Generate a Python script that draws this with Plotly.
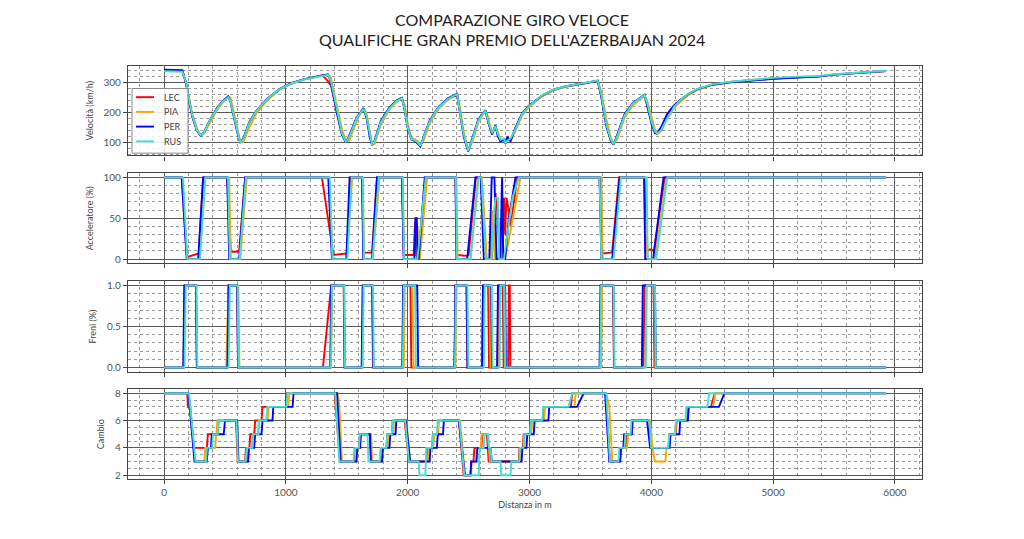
import plotly.graph_objects as go

TITLE_LINES = ["COMPARAZIONE GIRO VELOCE", "QUALIFICHE GRAN PREMIO DELL'AZERBAIJAN 2024"]
DRIVERS = ["LEC", "PIA", "PER", "RUS"]
COLORS = ["red", "orange", "blue", "turquoise"]
Y_TITLES = ["Velocità (km/h)", "Acceleratore (%)", "Freni (%)", "Cambio"]
X_TITLE = "Distanza in m"

# ---- speed (km/h) on a shared distance grid (m)
SPEED_DIST = [0, 150, 180, 230, 270, 300, 330, 380, 430, 480, 526, 545, 600, 625, 650, 700, 760, 850, 950,
              1050, 1150, 1250, 1300, 1345, 1370, 1420, 1460, 1493, 1520, 1580, 1636, 1660, 1690, 1707, 1730,
              1780, 1850, 1910, 1953, 1975, 2000, 2030, 2060, 2080, 2104, 2130, 2180, 2250, 2330, 2405, 2430,
              2460, 2496, 2530, 2580, 2638, 2660, 2693, 2720, 2740, 2762, 2790, 2803, 2819, 2844, 2880, 2940,
              3000, 3100, 3200, 3300, 3450, 3559, 3590, 3630, 3665, 3690, 3720, 3780, 3850, 3945, 3970, 4000,
              4030, 4049, 4080, 4130, 4160, 4184, 4250, 4300, 4380, 4500, 4650, 4790, 5005, 5200, 5367, 5500,
              5638, 5800, 5926]
LEC_SPEED = [340, 339, 300, 190, 140, 122, 133, 175, 210, 236, 252, 240, 138, 100, 110, 165, 205, 245, 278,
             298, 311, 320, 325, 305, 290, 200, 130, 100, 118, 180, 213, 190, 120, 92, 103,
             165, 213, 238, 245, 212, 152, 112, 106, 98, 90, 112, 168, 213, 244, 260, 205,
             125, 72, 105, 172, 205, 172, 125, 155, 125, 105, 108, 98, 116, 104, 140, 194,
             222, 255, 276, 287, 298, 307, 255, 160, 110, 93, 120, 190, 230, 257, 222, 170,
             135, 128, 147, 192, 208, 222, 245, 260, 278, 293, 302, 307, 314, 318, 320, 327,
             331, 336, 339]
PIA_SPEED = [339, 338, 305, 198, 145, 124, 130, 170, 205, 232, 252, 250, 150, 105, 100, 150, 198, 242, 276,
             297, 310, 319, 323, 327, 315, 220, 145, 105, 105, 170, 215, 200, 135, 95, 95,
             160, 210, 236, 248, 225, 165, 115, 110, 104, 92, 105, 163, 210, 242, 263, 215,
             135, 75, 100, 168, 208, 185, 128, 150, 135, 108, 106, 100, 110, 106, 135, 190,
             220, 253, 275, 286, 297, 306, 270, 180, 118, 95, 110, 182, 225, 256, 235, 185,
             142, 127, 138, 182, 200, 215, 240, 257, 276, 292, 302, 308, 314, 318, 321, 327,
             331, 336, 339]
PER_SPEED = [343, 342, 298, 188, 138, 122, 135, 177, 212, 238, 254, 236, 135, 98, 112, 168, 207, 247, 279,
             299, 312, 321, 325, 328, 300, 195, 125, 99, 122, 182, 214, 185, 115, 90, 107,
             172, 217, 241, 249, 208, 148, 110, 104, 95, 86, 118, 172, 217, 247, 262, 198,
             118, 69, 112, 177, 207, 168, 127, 157, 120, 102, 110, 96, 118, 103, 145, 197,
             224, 256, 277, 288, 298, 306, 250, 155, 106, 92, 125, 193, 233, 259, 215, 165,
             130, 130, 150, 195, 210, 222, 246, 261, 278, 293, 301, 306, 313, 317, 320, 327,
             331, 336, 339]
RUS_SPEED = [338, 337, 302, 192, 140, 123, 134, 176, 210, 236, 251, 238, 140, 99, 110, 166, 206, 246, 278,
             298, 311, 320, 324, 326, 305, 205, 130, 100, 118, 180, 212, 190, 122, 91, 104,
             168, 214, 239, 247, 210, 150, 111, 105, 100, 88, 115, 170, 215, 245, 261, 205,
             125, 71, 108, 174, 206, 172, 130, 155, 128, 108, 112, 97, 106, 112, 140, 195,
             223, 257, 277, 288, 299, 307, 258, 162, 110, 93, 120, 190, 231, 258, 225, 172,
             135, 129, 140, 180, 195, 218, 246, 262, 279, 294, 303, 309, 316, 320, 322, 328,
             332, 337, 340]

# ---- throttle (%) : (distance m, value)
LEC_THROTTLE = [(0, 100), (145, 100), (186, 5), (200, 3), (240, 5), (270, 7), (285, 7), (321, 100), (518, 100),
                (548, 9), (590, 9), (605, 10), (616, 9), (666, 100), (1296, 100), (1390, 5), (1470, 6),
                (1500, 7), (1534, 100), (1625, 100), (1638, 8), (1707, 8), (1748, 100), (1953, 100), (1967, 5),
                (2049, 5), (2060, 45), (2070, 5), (2090, 5), (2145, 100), (2392, 100), (2405, 5), (2490, 4),
                (2500, 5), (2560, 100), (2600, 100), (2640, 0), (2690, 0), (2721, 80), (2735, 60), (2755, 5),
                (2775, 10), (2790, 75), (2800, 30), (2811, 75), (2830, 60), (2845, 40), (2900, 100),
                (3575, 100), (3597, 7), (3670, 8), (3679, 10), (3735, 100), (3945, 100), (3967, 10), (3990, 12),
                (4022, 10), (4110, 100), (5926, 100)]
PIA_THROTTLE = [(0, 100), (150, 100), (191, 0), (290, 0), (340, 100), (535, 100), (548, 0), (625, 0), (680, 100),
                (1355, 100), (1385, 0), (1500, 0), (1545, 100), (1632, 100), (1642, 0), (1712, 0), (1770, 100),
                (1960, 100), (1972, 0), (2075, 0), (2082, 40), (2090, 0), (2100, 0), (2160, 100), (2400, 100),
                (2410, 0), (2515, 0), (2578, 100), (2610, 100), (2650, 0), (2675, 0), (2700, 60), (2715, 0),
                (2745, 0), (2760, 50), (2775, 0), (2800, 0), (2926, 100), (3590, 100), (3600, 0), (3685, 0),
                (3747, 100), (3960, 100), (3967, 0), (4030, 0), (4125, 100), (5926, 100)]
PER_THROTTLE = [(0, 100), (145, 100), (186, 0), (280, 0), (321, 100), (518, 100), (535, 0), (616, 0), (666, 100),
                (1348, 100), (1378, 0), (1496, 0), (1523, 100), (1625, 100), (1635, 0), (1707, 0), (1748, 100),
                (1953, 100), (1967, 0), (2055, 0), (2063, 50), (2075, 50), (2080, 0), (2090, 0), (2140, 100),
                (2392, 100), (2400, 0), (2488, 0), (2556, 100), (2600, 100), (2625, 0), (2670, 0), (2690, 100),
                (2712, 100), (2729, 0), (2760, 0), (2775, 100), (2785, 0), (2800, 0), (2830, 50), (2885, 100),
                (3575, 100), (3590, 0), (3679, 0), (3740, 100), (3940, 100), (3950, 0), (4015, 0), (4100, 100),
                (5926, 100)]
RUS_THROTTLE = [(0, 100), (155, 100), (190, 0), (295, 0), (338, 100), (525, 100), (540, 0), (620, 0), (672, 100),
                (1360, 100), (1382, 0), (1505, 0), (1540, 100), (1630, 100), (1640, 0), (1712, 0), (1762, 100),
                (1958, 100), (1970, 0), (2080, 0), (2148, 100), (2395, 100), (2405, 0), (2515, 0), (2583, 100),
                (2605, 100), (2640, 0), (2690, 0), (2700, 30), (2720, 75), (2740, 75), (2750, 0), (2790, 0),
                (2860, 75), (2912, 100), (3575, 100), (3590, 0), (3690, 0), (3750, 100), (3960, 100), (3972, 0),
                (4040, 0), (4131, 100), (5926, 100)]

# ---- brake (0/1) : (distance m, value)
LEC_BRAKE = [(0, 0), (160, 0), (170, 1), (262, 1), (270, 0), (518, 0), (528, 1), (600, 1), (608, 0), (1304, 0),
             (1372, 1), (1474, 1), (1482, 0), (1625, 0), (1633, 1), (1707, 1), (1715, 0), (1962, 0), (1970, 1),
             (2022, 1), (2030, 0), (2384, 0), (2392, 1), (2482, 1), (2490, 0), (2611, 0), (2619, 1), (2660, 1),
             (2668, 0), (2737, 0), (2745, 1), (2780, 1), (2788, 0), (2825, 0), (2830, 1), (2838, 1), (2843, 0),
             (3578, 0), (3586, 1), (3685, 1), (3693, 0), (3935, 0), (3945, 1), (4018, 1), (4026, 0), (5926, 0)]
PIA_BRAKE = [(0, 0), (165, 0), (175, 1), (264, 1), (272, 0), (510, 0), (530, 1), (610, 1), (619, 0), (1370, 0),
             (1382, 1), (1480, 1), (1488, 0), (1628, 0), (1636, 1), (1712, 1), (1720, 0), (1968, 0), (1976, 1),
             (2040, 1), (2048, 0), (2392, 0), (2402, 1), (2486, 1), (2494, 0), (2622, 0), (2630, 1), (2672, 1),
             (2680, 0), (2745, 0), (2753, 1), (2790, 1), (2798, 0), (3588, 0), (3596, 1), (3688, 1), (3696, 0),
             (3950, 0), (3960, 1), (4025, 1), (4033, 0), (5926, 0)]
PER_BRAKE = [(0, 0), (158, 0), (166, 1), (262, 1), (269, 0), (520, 0), (530, 1), (600, 1), (607, 0), (1364, 0),
             (1372, 1), (1476, 1), (1483, 0), (1622, 0), (1630, 1), (1710, 1), (1718, 0), (1955, 0), (1962, 1),
             (2078, 1), (2086, 0), (2384, 0), (2392, 1), (2484, 1), (2491, 0), (2611, 0), (2618, 1), (2685, 1),
             (2692, 0), (2734, 0), (2741, 1), (2800, 1), (2807, 0), (3575, 0), (3583, 1), (3688, 1), (3695, 0),
             (3922, 0), (3930, 1), (4030, 1), (4037, 0), (5926, 0)]
RUS_BRAKE = [(0, 0), (168, 0), (178, 1), (266, 1), (273, 0), (530, 0), (540, 1), (604, 1), (611, 0), (1370, 0),
             (1378, 1), (1478, 1), (1486, 0), (1630, 0), (1638, 1), (1715, 1), (1722, 0), (1960, 0), (1968, 1),
             (2060, 1), (2068, 0), (2388, 0), (2396, 1), (2490, 1), (2498, 0), (2625, 0), (2632, 1), (2690, 1),
             (2697, 0), (2755, 0), (2762, 1), (2795, 1), (2802, 0), (3580, 0), (3588, 1), (3690, 1), (3697, 0),
             (3955, 0), (3963, 1), (4030, 1), (4037, 0), (5926, 0)]

# ---- gear : (distance m, gear)
LEC_GEAR = [(0, 8), (191, 8), (195, 7), (215, 7), (245, 4), (351, 4), (360, 5), (440, 5), (448, 6), (590, 6),
            (605, 3), (666, 3), (672, 4), (700, 4), (708, 5), (740, 5), (748, 6), (800, 6), (808, 7), (1000, 7),
            (1010, 8), (1400, 8), (1445, 3), (1560, 3), (1566, 4), (1600, 4), (1608, 5), (1690, 5), (1700, 3),
            (1775, 3), (1782, 4), (1825, 4), (1832, 5), (1870, 5), (1877, 6), (1975, 6), (2010, 3), (2160, 3),
            (2167, 4), (2200, 4), (2207, 5), (2245, 5), (2252, 6), (2420, 6), (2460, 2), (2515, 2), (2522, 3),
            (2540, 3), (2548, 4), (2605, 4), (2612, 5), (2650, 5), (2665, 3), (2912, 3), (2918, 4), (2945, 4),
            (2952, 5), (3005, 5), (3012, 6), (3110, 6), (3118, 7), (3340, 7), (3350, 8), (3625, 8), (3660, 3),
            (3735, 3), (3742, 4), (3790, 4), (3798, 5), (3835, 5), (3842, 6), (3985, 6), (3998, 4), (4140, 4),
            (4148, 5), (4200, 5), (4208, 6), (4290, 6), (4298, 7), (4490, 7), (4520, 8), (5926, 8)]
PIA_GEAR = [(0, 8), (200, 8), (255, 3), (330, 3), (338, 4), (420, 4), (428, 5), (430, 5), (437, 6), (600, 6),
            (612, 3), (685, 3), (692, 4), (720, 4), (728, 5), (770, 5), (778, 6), (850, 6), (858, 7), (1020, 7),
            (1028, 8), (1425, 8), (1440, 7), (1460, 3), (1570, 3), (1578, 4), (1605, 4), (1612, 5), (1700, 5),
            (1708, 3), (1780, 3), (1788, 4), (1835, 4), (1842, 5), (1880, 5), (1888, 6), (1990, 6), (2020, 3),
            (2165, 3), (2172, 4), (2210, 4), (2218, 5), (2250, 5), (2257, 6), (2430, 6), (2470, 2), (2520, 2),
            (2527, 3), (2560, 3), (2568, 4), (2600, 4), (2607, 5), (2660, 5), (2675, 3), (2925, 3), (2932, 4),
            (2955, 4), (2962, 5), (3015, 5), (3022, 6), (3120, 6), (3128, 7), (3370, 7), (3378, 8), (3630, 8),
            (3655, 7), (3680, 3), (3740, 3), (3748, 4), (3800, 4), (3808, 5), (3840, 5), (3848, 6), (3990, 6),
            (4010, 4), (4030, 3), (4115, 3), (4125, 4), (4150, 4), (4157, 5), (4195, 5), (4203, 6), (4285, 6),
            (4293, 7), (4505, 7), (4525, 8), (5926, 8)]
PER_GEAR = [(0, 8), (200, 8), (250, 3), (350, 3), (360, 4), (385, 4), (392, 5), (490, 5), (500, 6), (600, 6),
            (610, 3), (690, 3), (697, 4), (740, 4), (748, 5), (800, 5), (808, 6), (890, 6), (897, 7), (1055, 7),
            (1063, 8), (1420, 8), (1450, 3), (1580, 3), (1586, 4), (1610, 4), (1616, 5), (1690, 5), (1698, 3),
            (1790, 3), (1797, 4), (1850, 4), (1857, 5), (1900, 5), (1907, 6), (1985, 6), (2020, 3), (2180, 3),
            (2187, 4), (2240, 4), (2247, 5), (2290, 5), (2297, 6), (2420, 6), (2470, 2), (2515, 2), (2522, 3),
            (2565, 3), (2572, 4), (2680, 4), (2690, 3), (2935, 3), (2942, 4), (2975, 4), (2982, 5), (3035, 5),
            (3042, 6), (3155, 6), (3162, 7), (3390, 7), (3445, 8), (3620, 8), (3655, 3), (3745, 3), (3752, 4),
            (3770, 4), (3777, 5), (3840, 5), (3847, 6), (3965, 6), (3990, 4), (4150, 4), (4157, 5), (4230, 5),
            (4237, 6), (4300, 6), (4308, 7), (4555, 7), (4600, 8), (5926, 8)]
RUS_GEAR = [(0, 8), (205, 8), (258, 3), (345, 3), (352, 4), (395, 4), (402, 5), (440, 5), (447, 6), (595, 6),
            (607, 3), (670, 3), (677, 4), (725, 4), (732, 5), (775, 5), (782, 6), (840, 6), (848, 7), (1005, 7),
            (1012, 8), (1405, 8), (1440, 3), (1555, 3), (1562, 4), (1600, 4), (1607, 5), (1670, 5), (1678, 3),
            (1770, 3), (1777, 4), (1825, 4), (1832, 5), (1870, 5), (1877, 6), (1980, 6), (2010, 3), (2090, 3),
            (2097, 2), (2145, 2), (2152, 4), (2200, 4), (2207, 5), (2240, 5), (2247, 6), (2425, 6), (2465, 2),
            (2583, 2), (2590, 4), (2625, 4), (2632, 5), (2660, 5), (2667, 4), (2680, 4), (2690, 3), (2762, 3),
            (2769, 2), (2844, 2), (2851, 3), (2915, 3), (2922, 4), (2950, 4), (2957, 5), (3005, 5), (3012, 6),
            (3105, 6), (3112, 7), (3320, 7), (3350, 8), (3630, 8), (3660, 3), (3730, 3), (3737, 4), (3780, 4),
            (3787, 5), (3830, 5), (3837, 6), (3985, 6), (3998, 4), (4140, 4), (4147, 5), (4195, 5), (4202, 6),
            (4280, 6), (4287, 7), (4460, 7), (4475, 8), (5926, 8)]

X_TICKS = [0, 1000, 2000, 3000, 4000, 5000, 6000]

speeds = [LEC_SPEED, PIA_SPEED, PER_SPEED, RUS_SPEED]
throttles = [LEC_THROTTLE, PIA_THROTTLE, PER_THROTTLE, RUS_THROTTLE]
brakes = [LEC_BRAKE, PIA_BRAKE, PER_BRAKE, RUS_BRAKE]
gears = [LEC_GEAR, PIA_GEAR, PER_GEAR, RUS_GEAR]

fig = go.Figure()
LW = 1.9
for i, drv in enumerate(DRIVERS):
    fig.add_trace(go.Scatter(x=SPEED_DIST, y=speeds[i], mode="lines", name=drv, showlegend=False,
                             line=dict(color=COLORS[i], width=LW), xaxis="x", yaxis="y"))
for idx, channel in enumerate([throttles, brakes, gears]):
    ax = str(idx + 2)
    for i, drv in enumerate(DRIVERS):
        pts = channel[i]
        fig.add_trace(go.Scatter(x=[p[0] for p in pts], y=[p[1] for p in pts], mode="lines", name=drv,
                                 showlegend=False, line=dict(color=COLORS[i], width=LW),
                                 xaxis="x" + ax, yaxis="y" + ax))

H = 539.0
W = 1024.0
XDOM = [128 / W, 922 / W]
PANELS = [(64.3, 154.3), (172.3, 262.7), (281.0, 371.7), (389.3, 480.0)]
YRANGES = [[55.6, 356.0], [-5, 105], [-0.05, 1.05], [1.7, 8.3]]
YDT = [100, 50, 0.5, 2]
YMINOR = [20, 10, 0.1, 0.5]
YFMT = ["", "", ".1f", ""]

FONT = "Lato"
grid_major = "#5a5a5a"
grid_minor = "#9a9a9a"

for k in range(4):
    sfx = "" if k == 0 else str(k + 1)
    top, bot = PANELS[k]
    fig.layout["xaxis" + sfx] = dict(
        domain=XDOM, range=[-296, 6222], anchor="y" + sfx,
        tickmode="array", tickvals=X_TICKS, showticklabels=(k == 3),
        ticks="outside", ticklen=4, tickcolor="#444", tickwidth=1,
        showline=True, mirror=True, linecolor="#444", linewidth=1.2,
        showgrid=True, gridcolor=grid_major, gridwidth=1.1, zeroline=False,
        minor=dict(dtick=200, tick0=0, showgrid=True, gridcolor=grid_minor, griddash="dot", gridwidth=0.8, ticks=""),
        tickfont=dict(family=FONT, size=10, color="#555"),
        title=dict(text=X_TITLE if k == 3 else "", font=dict(family=FONT, size=9, color="#444"), standoff=4),
        **({} if k == 0 else {"matches": "x"})
    )
    fig.layout["yaxis" + sfx] = dict(
        domain=[1 - bot / H, 1 - top / H], range=YRANGES[k], anchor="x" + sfx,
        tickmode="linear", tick0=0, dtick=YDT[k], tickformat=YFMT[k],
        ticks="outside", ticklen=4, tickcolor="#444", tickwidth=1,
        showline=True, mirror=True, linecolor="#444", linewidth=1.2,
        showgrid=True, gridcolor=grid_major, gridwidth=1.1, zeroline=False,
        minor=dict(dtick=YMINOR[k], tick0=0, showgrid=True, gridcolor=grid_minor, griddash="dot", gridwidth=0.8,
                   ticks=""),
        tickfont=dict(family=FONT, size=10, color="#555"),
        title=dict(text=Y_TITLES[k], font=dict(family=FONT, size=9, color="#444"), standoff=8),
    )

annotations = []
shapes = []
# title, two centred lines
for j, line in enumerate(TITLE_LINES):
    annotations.append(dict(text=line, xref="paper", yref="paper", x=0.5, y=1 - (18 + 20 * j) / H,
                            xanchor="center", yanchor="middle", showarrow=False,
                            font=dict(family=FONT, size=16, color="#222")))

# legend box (drawn in pixel-derived paper coordinates)
LEG_L, LEG_R, LEG_T, LEG_B = 132, 188, 87, 152
shapes.append(dict(type="rect", xref="paper", yref="paper", x0=LEG_L / W, x1=LEG_R / W,
                   y0=1 - LEG_B / H, y1=1 - LEG_T / H, line=dict(color="#888", width=1),
                   fillcolor="rgba(255,255,255,0.85)", layer="above"))
for i, drv in enumerate(DRIVERS):
    yy = 1 - (95.7 + 14.8 * i) / H
    shapes.append(dict(type="line", xref="paper", yref="paper", x0=136 / W, x1=154 / W, y0=yy, y1=yy,
                       line=dict(color=COLORS[i], width=1.9), layer="above"))
    annotations.append(dict(text=drv, xref="paper", yref="paper", x=162 / W, y=yy, xanchor="left",
                            yanchor="middle", showarrow=False, font=dict(family=FONT, size=9, color="#444")))

fig.update_layout(
    width=1024, height=539,
    margin=dict(l=0, r=0, t=0, b=0),
    paper_bgcolor="white", plot_bgcolor="white",
    showlegend=False,
    annotations=annotations,
    shapes=shapes,
)

fig.write_html("out.html")
